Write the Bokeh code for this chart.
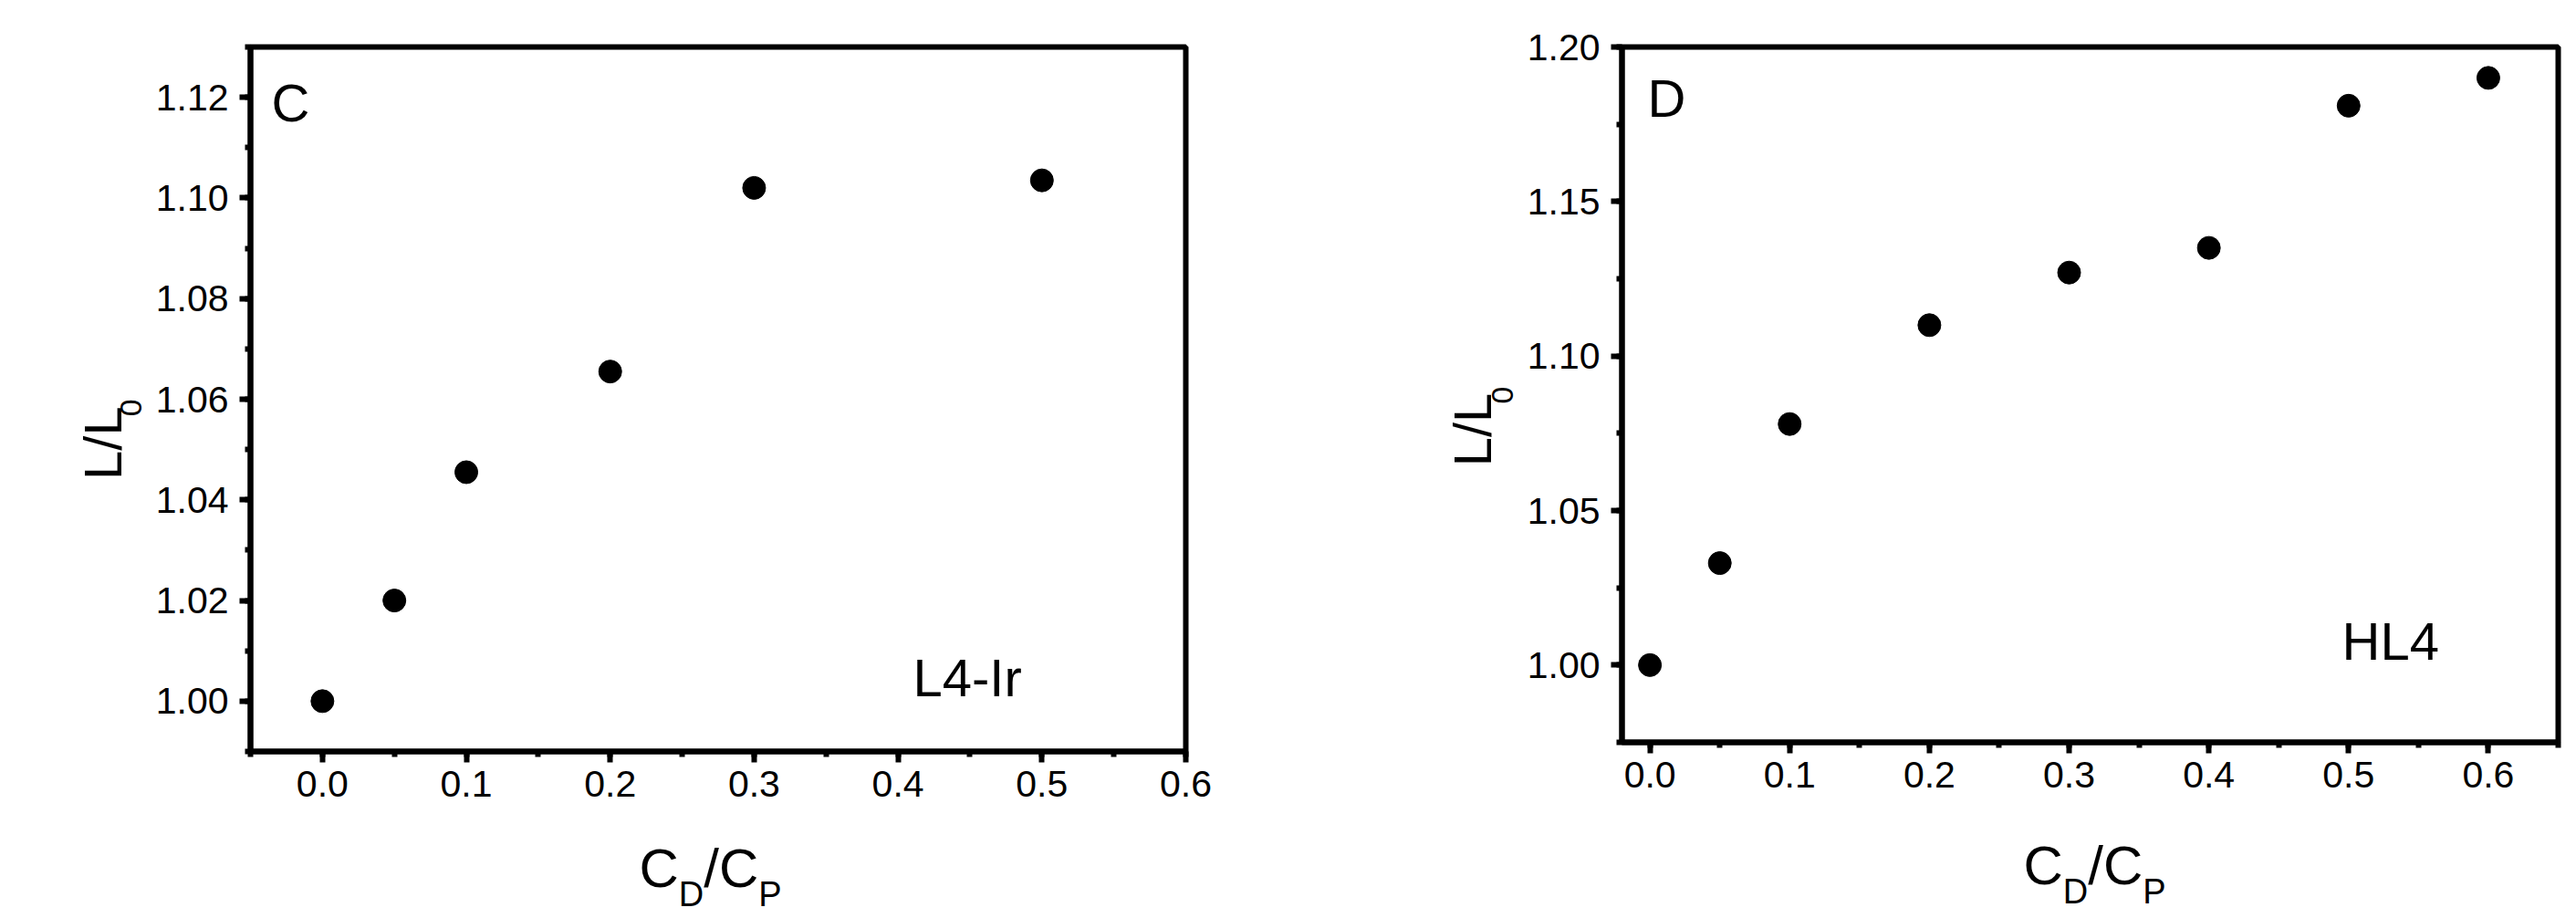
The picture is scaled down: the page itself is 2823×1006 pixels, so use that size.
import math
from bokeh.plotting import figure
from bokeh.layouts import row, column
from bokeh.models import Range1d, SingleIntervalTicker, PrintfTickFormatter, Label
from bokeh.embed import file_html
from bokeh.resources import INLINE

# ---- data ----
c_x = [0.0, 0.05, 0.1, 0.2, 0.3, 0.5]
c_y = [1.000, 1.020, 1.0455, 1.0655, 1.102, 1.1035]

d_x = [0.0, 0.05, 0.1, 0.2, 0.3, 0.4, 0.5, 0.6]
d_y = [1.000, 1.033, 1.078, 1.110, 1.127, 1.135, 1.181, 1.190]

panel_letters = ["C", "D"]
series_names = ["L4-Ir", "HL4"]

FONT = "Liberation Sans"
TICK_FS = "41px"
ANN_FS = 58
YLAB_FS = 58
YSUB_FS = 34
XLAB_FS = 60
XSUB_FS = 38
FIX = 0.39   # baseline correction (fraction of font size)

MAIN_H = 895
LAB_H = 110
EPS = 1e-9


def put(fig, to_data, txt, px, py, size, rotated=False):
    if rotated:
        px = px - FIX * size
        ang = math.pi / 2
    else:
        py = py - FIX * size
        ang = 0.0
    dx, dy = to_data(px, py)
    fig.add_layout(Label(x=dx, y=dy, x_units="data", y_units="data", text=txt,
                         text_font=FONT, text_font_size=f"{size}px",
                         text_color="black", text_align="left",
                         text_baseline="alphabetic", angle=ang))


def blank_fig(width, height, page_x0, page_y0):
    f = figure(width=width, height=height, x_range=Range1d(0, width),
               y_range=Range1d(0, height), output_backend="svg",
               toolbar_location=None, min_border=0,
               x_axis_type=None, y_axis_type=None)
    f.outline_line_color = None
    f.background_fill_color = "white"
    f.border_fill_color = "white"

    def to_data(px, py):
        return px - page_x0, height - (py - page_y0)
    return f, to_data


def main_fig(xs, ys, xr, yr, yint, page_x0, frame, width):
    l, r, t, b = frame
    p = figure(
        width=width, height=MAIN_H,
        x_range=Range1d(xr[0] - EPS, xr[1] + EPS),
        y_range=Range1d(yr[0] - EPS, yr[1] + EPS),
        output_backend="svg", toolbar_location=None,
        min_border_left=l - page_x0, min_border_right=width - (r - page_x0),
        min_border_top=t, min_border_bottom=MAIN_H - b,
        background_fill_color="white", border_fill_color="white",
    )
    p.grid.visible = False
    p.outline_line_color = "black"
    p.outline_line_width = 6
    p.outline_line_alpha = 1.0

    p.xaxis.ticker = SingleIntervalTicker(interval=0.1, num_minor_ticks=2)
    p.yaxis.ticker = SingleIntervalTicker(interval=yint, num_minor_ticks=2)
    p.xaxis.formatter = PrintfTickFormatter(format="%.1f")
    p.yaxis.formatter = PrintfTickFormatter(format="%.2f")
    for ax in (p.xaxis, p.yaxis):
        ax.axis_line_width = 6
        ax.axis_line_color = "black"
        ax.major_tick_line_width = 6
        ax.minor_tick_line_width = 6
        ax.major_tick_line_color = "black"
        ax.minor_tick_line_color = "black"
        ax.major_tick_in = 0
        ax.major_tick_out = 12
        ax.minor_tick_in = 0
        ax.minor_tick_out = 6
        ax.major_label_text_font = FONT
        ax.major_label_text_font_size = TICK_FS
        ax.major_label_text_color = "black"
    p.xaxis.major_label_standoff = 9
    p.yaxis.major_label_standoff = 12

    p.scatter(x=xs, y=ys, size=25, marker="circle", color="black")

    def to_data(px, py):
        dx = xr[0] + (px - l) / (r - l) * (xr[1] - xr[0])
        dy = yr[1] - (py - t) / (b - t) * (yr[1] - yr[0])
        return dx, dy
    return p, to_data


def x_label(fig, to_data, x0, base):
    parts = [("C", XLAB_FS, 0, 0.722), ("D", XSUB_FS, 20, 0.722), ("/", XLAB_FS, 0, 0.278),
             ("C", XLAB_FS, 0, 0.722), ("P", XSUB_FS, 20, 0.667)]
    x = x0
    for txt, sz, drop, w in parts:
        put(fig, to_data, txt, x, base + drop, sz)
        x += sz * w


def y_label(fig, to_data, base_x, start_y, sub_base_x):
    put(fig, to_data, "L/L", base_x, start_y, YLAB_FS, rotated=True)
    end_y = start_y - 1.39 * YLAB_FS
    put(fig, to_data, "0", sub_base_x, end_y, YSUB_FS, rotated=True)


# ---------- panel C ----------
C_YL_W = 166
C_W = 1408
mainC, tdC = main_fig(c_x, c_y, (-0.05, 0.6), (0.99, 1.13), 0.02,
                      C_YL_W, (274, 1299, 51, 823), C_W - C_YL_W)
put(mainC, tdC, panel_letters[0], 297, 135, ANN_FS)
put(mainC, tdC, series_names[0], 1000, 765, ANN_FS)
ylC, tdylC = blank_fig(C_YL_W, MAIN_H, 0, 0)
y_label(ylC, tdylC, 135, 550, 156)
xlC, tdxlC = blank_fig(C_W, LAB_H, 0, MAIN_H)
x_label(xlC, tdxlC, 700, 974)

# ---------- panel D ----------
D_X0 = C_W
D_YL_W = 262
D_W = 1413
mainD, tdD = main_fig(d_x, d_y, (-0.02, 0.65), (0.975, 1.20), 0.05,
                      D_X0 + D_YL_W, (1777, 2803, 51, 813), D_W - D_YL_W)
put(mainD, tdD, panel_letters[1], 1805, 130, ANN_FS)
put(mainD, tdD, series_names[1], 2566, 725, ANN_FS)
ylD, tdylD = blank_fig(D_YL_W, MAIN_H, D_X0, 0)
y_label(ylD, tdylD, 1636, 540, 1659)
xlD, tdxlD = blank_fig(D_W, LAB_H, D_X0, MAIN_H)
x_label(xlD, tdxlD, 2217, 971)

layout = row(
    column(row(ylC, mainC), xlC),
    column(row(ylD, mainD), xlD),
)
open("out.html", "w").write(file_html(layout, INLINE))
